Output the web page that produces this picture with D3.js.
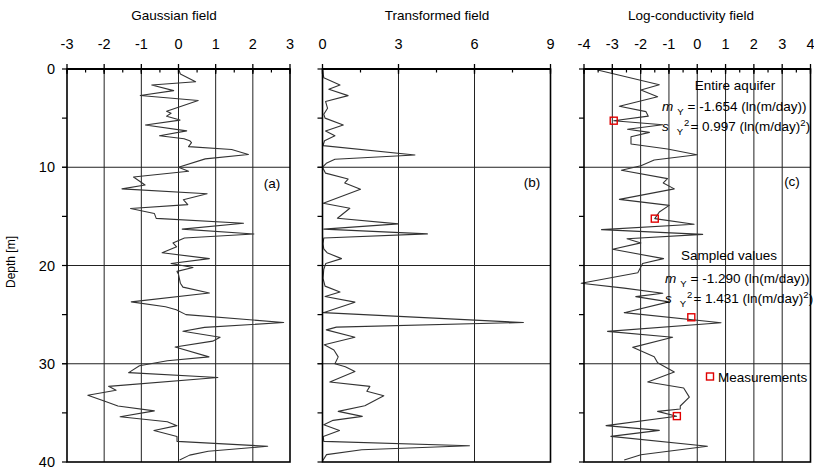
<!DOCTYPE html>
<html><head><meta charset="utf-8">
<script src="https://cdn.jsdelivr.net/npm/d3@7"></script>
<style>
body{margin:0;background:#fff;}
text{font-family:"Liberation Sans",Arial,sans-serif;fill:#000;}
</style></head>
<body><svg id="chart" width="814" height="470"></svg>
<script>
// ---- data ----
const depthA = [0,0.5,1.29,1.63,2.2,2.7,3.2,4.3,4.5,4.8,5.2,5.7,6.3,6.8,7.1,7.3,7.5,7.9,8.2,8.7,9.15,10.0,10.4,11.0,11.8,12.2,12.7,13.3,13.8,14.2,14.7,15.2,15.7,16.3,16.8,17.2,17.7,18.1,18.7,19.3,19.8,20.2,20.6,20.9,21.8,22.2,22.8,23.7,24.2,24.5,25.0,25.8,26.3,26.7,27.3,27.7,28.3,29.3,29.7,30.2,30.9,31.4,32.3,32.7,33.2,33.8,34.3,34.8,35.4,35.9,36.3,36.8,37.4,37.9,38.4,38.9,39.3,39.8];
const gaussian = [0,0.05,0.46,-0.72,-0.13,-1.03,0.53,-0.32,-0.2,-0.32,0.04,-0.89,0.22,-0.51,0.15,0.3,0.35,0.27,1.43,1.88,0.72,0.0,0.27,-1.21,-0.9,-1.52,0.77,0.13,0.25,-1.29,-0.65,-0.6,1.75,0.1,2.03,0.16,-0.15,-0.05,-0.44,0.83,-0.2,0.39,-0.04,0.0,0.05,0.12,0.83,-1.27,-0.35,-0.06,0.2,2.83,0.7,0.12,1.12,0.92,-0.09,0.82,-0.3,-1.05,-1.34,1.06,-1.88,-1.68,-2.44,-2.0,-1.63,-0.65,-1.57,-0.3,-0.04,-0.66,-0.04,-0.04,2.4,0.8,0.3,0.03];

const depthB = [0,0.9,1.63,2.07,2.71,3.3,4.0,4.6,5.0,5.7,6.3,6.8,7.3,7.8,8.75,9.19,9.6,10.0,10.6,11.2,11.6,12.24,13.66,14.17,15.19,15.76,16.3,16.78,17.2,17.8,18.3,18.7,19.3,19.8,20.4,21.3,22.1,22.7,23.15,23.73,24.8,25.8,26.27,26.55,27.3,28.07,28.6,29.3,30.0,30.3,30.8,31.86,32.3,32.8,33.25,34.27,34.85,35.36,35.76,36.2,36.8,37.4,37.9,38.34,38.75,39.25,39.9];
const transformed = [0,0.05,0.69,0.25,1.01,0.12,0.2,0.05,0.1,0.82,0.12,0.49,0.08,0.02,3.65,0.49,0.15,0.0,0.12,1.01,0.88,1.5,0.03,1.08,0.59,2.99,0.05,4.14,0.05,0.02,0.05,0.18,0.75,0.13,0.05,0.02,0.1,0.69,0.1,1.28,0.03,7.93,0.55,0.15,1.28,0.07,0.45,0.62,0.49,0.9,1.28,0.29,1.87,1.75,2.42,1.67,0.62,1.57,0.42,0.05,0.67,0.03,0.05,5.8,1.55,0.16,0.0];

const depthC = [0.1,1.6,2.14,2.82,3.8,4.34,4.8,5.26,5.67,6.14,6.45,6.89,7.63,8.14,8.72,9.26,9.84,10.3,11.16,11.6,12.2,13.27,13.88,14.56,15.23,15.8,16.35,16.83,17.27,17.7,18.35,19.3,19.8,20.73,21.8,22.3,22.83,23.17,23.7,24.8,25.82,26.7,27.3,28.33,29.28,29.9,30.84,31.85,32.47,33.4,34.3,34.6,34.85,35.35,36.3,36.78,37.39,38.4,39.26,39.8];
const logK = [-3.52,-1.34,-1.99,-1.4,-2.75,-1.81,-1.73,-2.95,-1.22,-2.46,-1.69,-2.34,-2.34,-1.05,-0.01,-1.52,-1.99,-2.68,-1.05,-1.2,-0.81,-2.75,-0.99,-1.34,-1.5,-0.11,-3.38,0.19,-2.48,-1.99,-2.99,-1.19,-1.93,-2.1,-4.1,-2.58,-1.22,-2.17,-1.0,-2.58,0.84,-3.17,-0.87,-2.28,-1.52,-1.4,-0.81,-1.75,-0.48,-0.28,-0.6,-0.6,-1.4,-0.73,-3.22,-1.34,-3.05,0.36,-1.99,-2.58];

const measDepth = [5.26,15.23,25.27,35.33];
const measValue = [-2.95,-1.5,-0.21,-0.72];

const ticksA = [-3,-2,-1,0,1,2,3];
const ticksB = [0,3,6,9];
const ticksC = [-4,-3,-2,-1,0,1,2,3,4];
const depthTicks = [0,10,20,30,40];

const titles = ["Gaussian field","Transformed field","Log-conductivity field"];
const panelTags = ["(a)","(b)","(c)"];

// ---- layout ----
const svg = d3.select("#chart");
const yTop = 69, yBot = 462;
const y = d3.scaleLinear().domain([0,40]).range([yTop,yBot]);

const panels = [
  {x0:67, x1:290, dom:[-3,3], ticks:ticksA, minor:0.5, depth:depthA, vals:gaussian, title:titles[0], titleX:174, tag:panelTags[0], tagX:272, tagY:188},
  {x0:322.5, x1:550.5, dom:[0,9], ticks:ticksB, minor:1.5, depth:depthB, vals:transformed, title:titles[1], titleX:437, tag:panelTags[1], tagX:532, tagY:187},
  {x0:584, x1:810.5, dom:[-4,4], ticks:ticksC, minor:0.5, depth:depthC, vals:logK, title:titles[2], titleX:691, tag:panelTags[2], tagX:792, tagY:186}
];

const FS = 13.5, FT = 14.5;
const lineCol = "#333";

panels.forEach((p,i)=>{
  const x = d3.scaleLinear().domain(p.dom).range([p.x0,p.x1]);
  p.x = x;
  const g = svg.append("g");
  g.selectAll("line.vg").data(p.ticks.slice(1,-1)).enter().append("line")
    .attr("x1",d=>x(d)).attr("x2",d=>x(d)).attr("y1",yTop).attr("y2",yBot)
    .attr("stroke","#222").attr("stroke-width",1);
  g.selectAll("line.hg").data([10,20,30]).enter().append("line")
    .attr("x1",p.x0-5).attr("x2",p.x1).attr("y1",d=>y(d)).attr("y2",d=>y(d))
    .attr("stroke","#222").attr("stroke-width",1);
  g.selectAll("line.lt").data(d3.range(0,41,5)).enter().append("line")
    .attr("x1",p.x0-5).attr("x2",p.x0).attr("y1",d=>y(d)).attr("y2",d=>y(d))
    .attr("stroke","#000").attr("stroke-width",1.2);
  const pts = p.depth.map((d,k)=>[p.vals[k],d]);
  g.append("path").datum(pts)
    .attr("d",d3.line().x(d=>x(d[0])).y(d=>y(d[1])))
    .attr("fill","none").attr("stroke",lineCol).attr("stroke-width",1.1).attr("stroke-linejoin","round");
  g.append("rect").attr("x",p.x0).attr("y",yTop).attr("width",p.x1-p.x0).attr("height",yBot-yTop)
    .attr("fill","none").attr("stroke","#000").attr("stroke-width",1.6);
  const minors = d3.range(p.dom[0],p.dom[1]+1e-9,p.minor);
  g.selectAll("line.mn").data(minors).enter().append("line")
    .attr("x1",d=>x(d)).attr("x2",d=>x(d)).attr("y1",yTop).attr("y2",yTop+3.5)
    .attr("stroke","#000").attr("stroke-width",1.2);
  g.selectAll("line.mj").data(p.ticks).enter().append("line")
    .attr("x1",d=>x(d)).attr("x2",d=>x(d)).attr("y1",yTop-5).attr("y2",yTop+5)
    .attr("stroke","#000").attr("stroke-width",1.3);
  g.append("line").attr("x1",p.x0).attr("x2",p.x1).attr("y1",yTop).attr("y2",yTop)
    .attr("stroke","#000").attr("stroke-width",2.2);
  g.selectAll("text.tl").data(p.ticks).enter().append("text")
    .attr("x",d=>x(d)).attr("y",48.5).attr("text-anchor","middle").attr("font-size",FT)
    .text(d=>d);
  g.append("text").attr("x",p.titleX).attr("y",20).attr("text-anchor","middle").attr("font-size",FS).text(p.title);
  g.append("text").attr("x",p.tagX).attr("y",p.tagY).attr("text-anchor","middle").attr("font-size",FS).text(p.tag);
});

svg.selectAll("text.dl").data(depthTicks).enter().append("text")
  .attr("x",55).attr("y",d=>y(d)+5).attr("text-anchor","end").attr("font-size",FT).text(d=>d);
svg.append("text").attr("transform","translate(15,262) rotate(-90)").attr("text-anchor","middle")
  .attr("font-size",12).text("Depth [m]");

const pc = panels[2];
svg.selectAll("rect.ms").data(measDepth).enter().append("rect")
  .attr("x",(d,k)=>pc.x(measValue[k])-3.5).attr("y",d=>y(d)-3.5).attr("width",7).attr("height",7)
  .attr("fill","none").attr("stroke","#e00000").attr("stroke-width",1.4);

function stats(x, yb, m, s){
  const t1 = svg.append("text").attr("x",x).attr("y",yb).attr("font-size",FS);
  t1.append("tspan").attr("font-style","italic").text("m");
  t1.append("tspan").attr("font-size",9.5).attr("dx",4).attr("dy",4).text("Y");
  t1.append("tspan").attr("dx",4).attr("dy",-4).text("= "+m+" (ln(m/day))");
  const t2 = svg.append("text").attr("x",x).attr("y",yb+19.5).attr("font-size",FS);
  t2.append("tspan").attr("font-style","italic").text("s");
  t2.append("tspan").attr("font-size",9.5).attr("dx",8).attr("dy",4).text("Y");
  t2.append("tspan").attr("font-size",9.5).attr("dx",1).attr("dy",-9).text("2");
  t2.append("tspan").attr("dx",1).attr("dy",5).text("= "+s+" (ln(m/day)");
  t2.append("tspan").attr("font-size",9.5).attr("dy",-5).text("2");
  t2.append("tspan").attr("dy",5).text(")");
}
svg.append("text").attr("x",735).attr("y",90).attr("text-anchor","middle").attr("font-size",FS).text("Entire aquifer");
stats(662,111,"-1.654","0.997");
svg.append("text").attr("x",729).attr("y",260).attr("text-anchor","middle").attr("font-size",FS).text("Sampled values");
stats(665,283,"-1.290","1.431");
svg.append("rect").attr("x",706.5).attr("y",373).attr("width",7).attr("height",7)
  .attr("fill","none").attr("stroke","#e00000").attr("stroke-width",1.4);
svg.append("text").attr("x",718).attr("y",381.5).attr("font-size",FS).text("Measurements");
</script></body></html>
